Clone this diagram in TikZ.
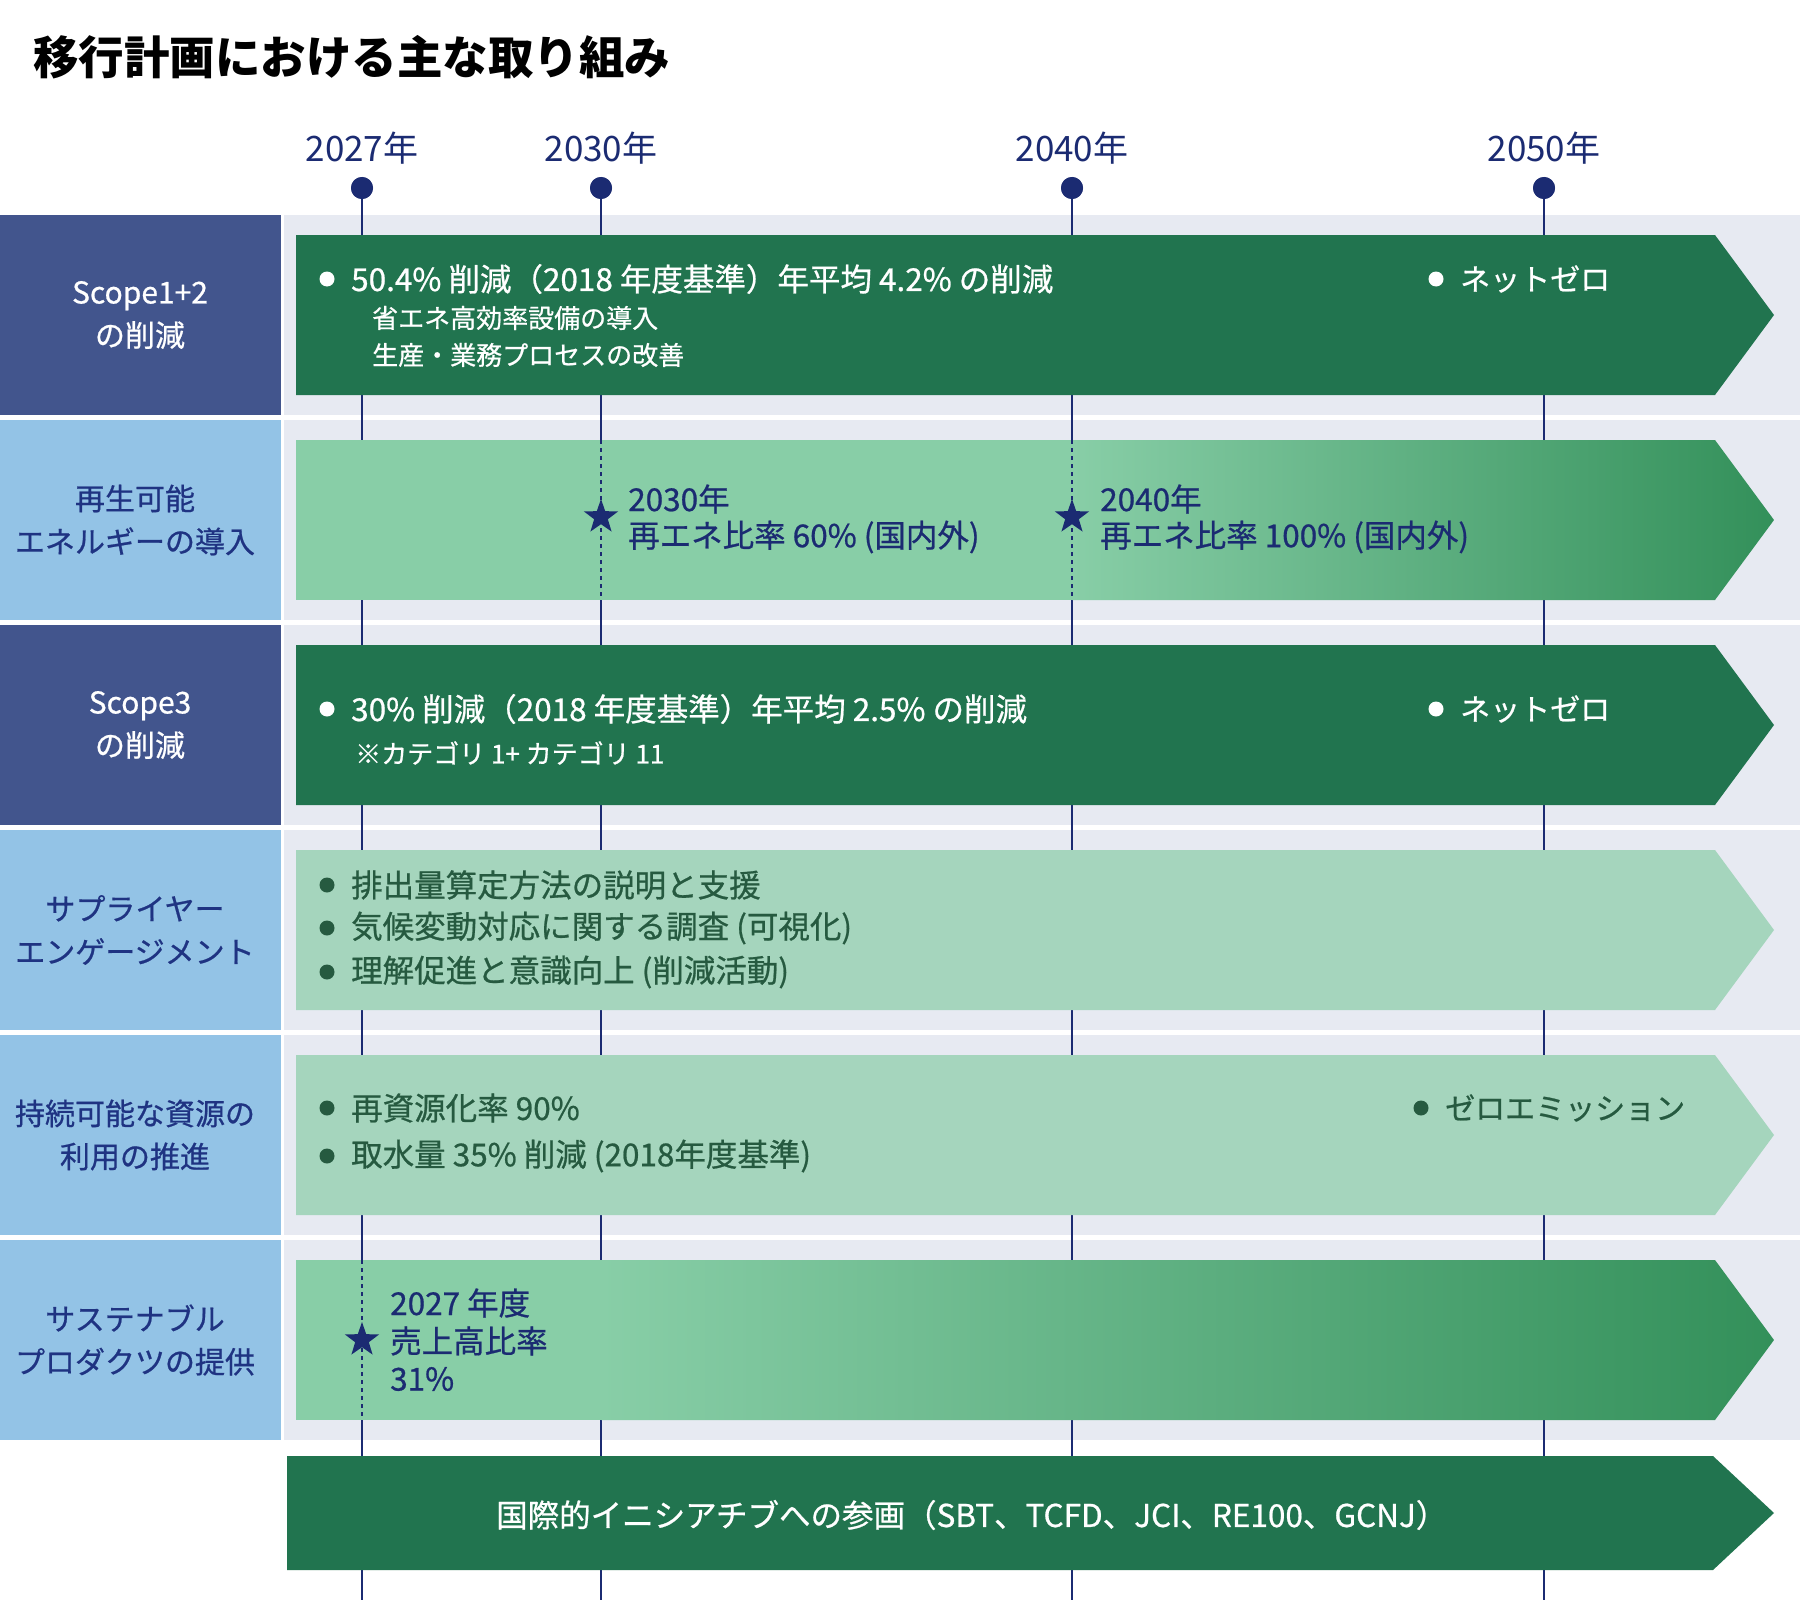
\documentclass[tikz,border=0pt]{standalone}
\usepackage{fontspec}
\setmainfont{Noto Sans CJK JP}
\newfontfamily\medfont{Noto Sans CJK JP}[FakeBold=0.7]
\usepackage{xcolor}
\usepackage{tikz}
\usetikzlibrary{shapes.geometric}
\definecolor{navy}{HTML}{1B2B72}
\definecolor{labeldark}{HTML}{42558D}
\definecolor{labellight}{HTML}{93C3E6}
\definecolor{labeltext}{HTML}{1F3382}
\definecolor{rowbg}{HTML}{E7EAF2}
\definecolor{darkgreen}{HTML}{21744F}
\definecolor{lightgreen}{HTML}{88CEA7}
\definecolor{deepgreen}{HTML}{33905A}
\definecolor{mint}{HTML}{A5D5BD}
\definecolor{minttext}{HTML}{265A40}
\tikzset{
  rowbox/.style={
    inner sep=0pt,
    outer sep=0pt,
    minimum width=281pt,
    minimum height=200pt,
    anchor=north west
  },
  rowlabel/.style={
    inner sep=0pt,
    align=center,
    font=\medfont\fontsize{30}{43}\selectfont
  },
  darklabel/.style={rowlabel, text=white},
  lightlabel/.style={rowlabel, text=labeltext},
  yearlabel/.style={text=navy, inner sep=0pt, font=\fontsize{35}{40}\selectfont},
  yeardot/.style={circle, fill=navy, inner sep=0pt, minimum size=22pt},
  tline/.style={draw=navy, line width=2pt},
  dline/.style={draw=navy, line width=1.5pt, dash pattern=on 4pt off 4pt},
  bartext/.style={anchor=west, inner sep=0pt, font=\medfont\fontsize{31.5}{36}\selectfont},
  goaltext/.style={anchor=west, inner sep=0pt, font=\medfont\fontsize{30}{36}\selectfont},
  subtext/.style={anchor=west, inner sep=0pt, font=\medfont\fontsize{26}{30}\selectfont},
  bulletdot/.style={circle, inner sep=0pt, minimum size=15pt},
  goalstar/.style={star, star points=5, star point ratio=2.5, fill=navy,
    inner sep=0pt, minimum size=36pt}
}
\begin{document}
\begin{tikzpicture}[x=1pt,y=-1pt]
  \useasboundingbox (0,0) rectangle (1800,1600);
  \fill[white] (0,0) rectangle (1800,1600);

  \node[anchor=west, inner sep=0pt, font=\fontsize{45.5}{54}\selectfont\bfseries] (title) at (33,57) {移行計画における主な取り組み};

  % row backgrounds
  \foreach \t in {215,420,625,830,1035,1240}
    \fill[rowbg] (284,\t) rectangle (1800,\t+200);

  % row labels
  \node[rowbox, fill=labeldark] (box1) at (0,215) {};
  \node[rowbox, fill=labellight] (box2) at (0,420) {};
  \node[rowbox, fill=labeldark] (box3) at (0,625) {};
  \node[rowbox, fill=labellight] (box4) at (0,830) {};
  \node[rowbox, fill=labellight] (box5) at (0,1035) {};
  \node[rowbox, fill=labellight] (box6) at (0,1240) {};
  \node[darklabel] (lab1) at (140,315) {Scope1+2\\の削減};
  \node[lightlabel] (lab2) at (135,520) {再生可能\\エネルギーの導入};
  \node[darklabel] (lab3) at (140,725) {Scope3\\の削減};
  \node[lightlabel] (lab4) at (135,930) {サプライヤー\\エンゲージメント};
  \node[lightlabel] (lab5) at (135,1135) {持続可能な資源の\\利用の推進};
  \node[lightlabel] (lab6) at (135,1340) {サステナブル\\プロダクツの提供};

  % timeline
  \foreach \yr/\x in {2027/362,2030/601,2040/1072,2050/1544} {
    \node[yearlabel] (y\yr) at (\x,148) {\yr 年};
    \coordinate (e\yr) at (\x,1600);
    \node[yeardot] (p\yr) at (\x,188) {};
    \draw[tline] (p\yr.center) -- (e\yr);
    \node[yeardot] at (p\yr) {};
  }

  % bars
  \fill[darkgreen] (296,235) -- (1715,235) -- (1774,315) -- (1715,395) -- (296,395) -- cycle;
  \begin{scope}
    \clip (296,440) -- (1715,440) -- (1774,520) -- (1715,600) -- (296,600) -- cycle;
    \fill[lightgreen] (296,440) rectangle (1072,600);
    \shade[left color=lightgreen, right color=deepgreen] (1072,440) rectangle (1774,600);
  \end{scope}
  \fill[darkgreen] (296,645) -- (1715,645) -- (1774,725) -- (1715,805) -- (296,805) -- cycle;
  \fill[mint] (296,850) -- (1715,850) -- (1774,930) -- (1715,1010) -- (296,1010) -- cycle;
  \fill[mint] (296,1055) -- (1715,1055) -- (1774,1135) -- (1715,1215) -- (296,1215) -- cycle;
  \begin{scope}
    \clip (296,1260) -- (1715,1260) -- (1774,1340) -- (1715,1420) -- (296,1420) -- cycle;
    \fill[lightgreen] (296,1260) rectangle (601,1420);
    \shade[left color=lightgreen, right color=deepgreen] (601,1260) rectangle (1774,1420);
  \end{scope}
  \fill[darkgreen] (287,1456) -- (1713,1456) -- (1774,1513) -- (1713,1570) -- (287,1570) -- cycle;

  % Scope1+2
  \node[bulletdot, fill=white] (b11) at (327,279) {};
  \node[bartext, text=white] (t11) at (351,279) {50.4\% 削減（2018 年度基準）年平均 4.2\% の削減};
  \node[subtext, text=white] (t12) at (372,318) {省エネ高効率設備の導入};
  \node[subtext, text=white] (t13) at (372,355) {生産・業務プロセスの改善};
  \node[bulletdot, fill=white] (b14) at (1436,279) {};
  \node[goaltext, text=white] (t14) at (1460,279) {ネットゼロ};

  % renewables
  \coordinate (d30t) at (601,440);
  \coordinate (d30b) at (601,600);
  \coordinate (d40t) at (1072,440);
  \coordinate (d40b) at (1072,600);
  \draw[dline] (d30t) -- (d30b);
  \draw[dline] (d40t) -- (d40b);
  \node[goalstar] (s30) at (601,517) {};
  \node[goalstar] (s40) at (1072,517) {};
  \node[bartext, text=navy] (t21) at (628,499) {2030年};
  \node[bartext, text=navy] (t22) at (628,537) {再エネ比率 60\% (国内外)};
  \node[bartext, text=navy] (t23) at (1100,499) {2040年};
  \node[bartext, text=navy] (t24) at (1100,537) {再エネ比率 100\% (国内外)};

  % Scope3
  \node[bulletdot, fill=white] (b31) at (327,709) {};
  \node[bartext, text=white] (t31) at (351,709) {30\% 削減（2018 年度基準）年平均 2.5\% の削減};
  \node[subtext, text=white] (t32) at (355,753) {※カテゴリ 1+ カテゴリ 11};
  \node[bulletdot, fill=white] (b33) at (1436,709) {};
  \node[goaltext, text=white] (t33) at (1460,709) {ネットゼロ};

  % supplier engagement
  \node[bulletdot, fill=minttext] (b41) at (327,885) {};
  \node[bartext, text=minttext] (t41) at (351,885) {排出量算定方法の説明と支援};
  \node[bulletdot, fill=minttext] (b42) at (327,928) {};
  \node[bartext, text=minttext] (t42) at (351,928) {気候変動対応に関する調査 (可視化)};
  \node[bulletdot, fill=minttext] (b43) at (327,972) {};
  \node[bartext, text=minttext] (t43) at (351,972) {理解促進と意識向上 (削減活動)};

  % resources
  \node[bulletdot, fill=minttext] (b51) at (327,1108) {};
  \node[bartext, text=minttext] (t51) at (351,1108) {再資源化率 90\%};
  \node[bulletdot, fill=minttext] (b52) at (327,1156) {};
  \node[bartext, text=minttext] (t52) at (351,1156) {取水量 35\% 削減 (2018年度基準)};
  \node[bulletdot, fill=minttext] (b53) at (1421,1108) {};
  \node[goaltext, text=minttext] (t53) at (1445,1108) {ゼロエミッション};

  % sustainable products
  \coordinate (d27t) at (362,1260);
  \coordinate (d27b) at (362,1420);
  \draw[dline] (d27t) -- (d27b);
  \node[goalstar] (s27) at (362,1340) {};
  \node[bartext, text=navy] (t61) at (390,1303) {2027 年度};
  \node[bartext, text=navy] (t62) at (390,1341) {売上高比率};
  \node[bartext, text=navy] (t63) at (390,1379) {31\%};

  % initiatives
  \node[bartext, text=white] (t71) at (496,1515) {国際的イニシアチブへの参画（SBT、TCFD、JCI、RE100、GCNJ）};
\end{tikzpicture}
\end{document}
